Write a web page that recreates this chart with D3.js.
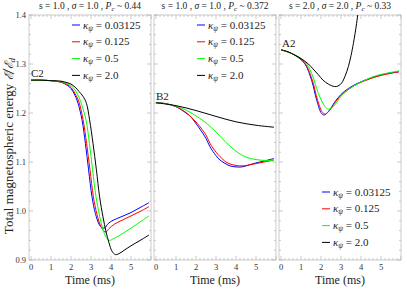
<!DOCTYPE html>
<html>
<head>
<meta charset="utf-8">
<script src="https://cdn.jsdelivr.net/npm/d3@7"></script>
<style>
body { margin: 0; background: #fff; }
</style>
</head>
<body>
<div id="chart"></div>
<script>
// kappa values shown in the legends
var kappaLabels = ["0.03125", "0.125", "0.5", "2.0"];
var seriesColors = ["#0000ff", "#ff0000", "#00ff00", "#000000"];

var panelNames = ["C2", "B2", "A2"];
var panelS = ["1.0", "1.0", "2.0"];
var panelSigma = ["1.0", "1.0", "2.0"];
var panelPc = ["0.44", "0.372", "0.33"];

var xTicks = [0, 1, 2, 3, 4, 5];
var yTicks = [0.9, 1.0, 1.1, 1.2, 1.3, 1.4];

// panel C2, [time (ms), energy]
var c2Blue = [[0,1.267],[0.5,1.267],[1,1.266],[1.5,1.263],[1.8,1.257],[2.0,1.250],[2.2,1.236],[2.35,1.220],[2.55,1.186],[2.72,1.138],[2.88,1.084],[3.05,1.029],[3.22,0.995],[3.43,0.971],[3.6,0.965],[3.7,0.966],[3.85,0.974],[4.1,0.981],[4.5,0.988],[5.0,0.997],[5.5,1.008],[5.9,1.017]];
var c2Red = [[0,1.267],[0.5,1.267],[1,1.266],[1.5,1.263],[1.8,1.258],[2.0,1.252],[2.2,1.240],[2.4,1.222],[2.6,1.187],[2.78,1.138],[2.95,1.084],[3.12,1.029],[3.3,0.993],[3.5,0.968],[3.65,0.959],[3.75,0.957],[3.9,0.964],[4.2,0.974],[4.6,0.982],[5.0,0.990],[5.5,1.000],[5.9,1.009]];
var c2Green = [[0,1.267],[0.5,1.267],[1,1.266],[1.5,1.264],[1.8,1.260],[2.0,1.256],[2.2,1.247],[2.4,1.232],[2.55,1.215],[2.75,1.186],[2.92,1.138],[3.08,1.084],[3.25,1.029],[3.42,0.992],[3.6,0.962],[3.78,0.945],[3.93,0.940],[4.1,0.943],[4.5,0.952],[5.0,0.965],[5.5,0.979],[5.9,0.990]];
var c2Black = [[0,1.267],[0.5,1.267],[1,1.266],[1.5,1.265],[1.8,1.262],[2.0,1.259],[2.2,1.253],[2.4,1.244],[2.6,1.234],[2.77,1.220],[2.93,1.186],[3.1,1.138],[3.27,1.084],[3.43,1.029],[3.6,0.988],[3.75,0.958],[3.9,0.935],[4.05,0.918],[4.22,0.911],[4.4,0.913],[4.7,0.921],[5.0,0.929],[5.5,0.941],[5.9,0.951]];

// panel B2
var b2Blue = [[0,1.221],[0.5,1.219],[1.0,1.213],[1.5,1.200],[1.7,1.194],[2.2,1.167],[2.5,1.148],[2.7,1.131],[3.0,1.113],[3.2,1.104],[3.5,1.096],[3.7,1.092],[4.0,1.090],[4.3,1.090],[4.9,1.097],[5.4,1.102],[5.9,1.107]];
var b2Red = [[0,1.221],[0.5,1.219],[1.0,1.213],[1.5,1.201],[1.9,1.186],[2.2,1.172],[2.5,1.155],[2.7,1.138],[3.0,1.120],[3.2,1.111],[3.5,1.100],[3.7,1.096],[4.0,1.093],[4.3,1.092],[4.9,1.096],[5.4,1.100],[5.9,1.104]];
var b2Green = [[0,1.221],[0.5,1.219],[1.0,1.214],[1.5,1.206],[2.0,1.194],[2.5,1.180],[3.0,1.161],[3.5,1.140],[4.0,1.122],[4.5,1.110],[5.0,1.105],[5.5,1.103],[5.9,1.103]];
var b2Black = [[0,1.221],[1,1.215],[2,1.205],[3,1.193],[4,1.182],[5,1.175],[5.9,1.171]];

// panel A2
var a2Blue = [[0,1.329],[0.5,1.322],[0.87,1.313],[1.2,1.300],[1.53,1.267],[1.78,1.227],[2.03,1.199],[2.17,1.196],[2.37,1.203],[2.7,1.223],[3.0,1.238],[3.37,1.250],[3.8,1.260],[4.2,1.267],[4.6,1.273],[5.03,1.278],[5.5,1.282],[5.9,1.284]];
var a2Red = [[0,1.329],[0.5,1.322],[0.9,1.313],[1.25,1.298],[1.58,1.265],[1.83,1.226],[2.08,1.201],[2.22,1.198],[2.42,1.205],[2.75,1.224],[3.05,1.238],[3.4,1.249],[3.8,1.259],[4.2,1.266],[4.6,1.272],[5.03,1.277],[5.5,1.281],[5.9,1.284]];
var a2Green = [[0,1.329],[0.5,1.322],[0.9,1.314],[1.2,1.305],[1.53,1.281],[1.87,1.240],[2.2,1.213],[2.37,1.208],[2.55,1.211],[2.7,1.217],[3.0,1.234],[3.37,1.248],[3.8,1.259],[4.2,1.267],[4.6,1.274],[5.03,1.279],[5.5,1.283],[5.9,1.286]];
var a2Black = [[0,1.329],[0.35,1.325],[0.7,1.318],[1.0,1.311],[1.37,1.300],[1.6,1.290],[1.87,1.278],[2.1,1.267],[2.37,1.259],[2.67,1.254],[2.85,1.255],[3.03,1.261],[3.2,1.275],[3.37,1.295],[3.5,1.317],[3.62,1.342],[3.78,1.383],[3.9,1.42]];

var panelSeries = [
	[c2Blue, c2Red, c2Green, c2Black],
	[b2Blue, b2Red, b2Green, b2Black],
	[a2Blue, a2Red, a2Green, a2Black]
];

var config = {
	width: 407,
	height: 289,
	fontFamily: "'Liberation Serif', 'Times New Roman', serif",
	panelLeft: [29, 154, 279],
	panelWidth: 122,
	top: 15,
	bottom: 260,
	frameColor: "#a8a8a8",
	textColor: "#333",
	labelPos: [[31, 77], [156, 100], [282, 47]],
	legendTop: [25, 25, 192],
	legendStep: 16.8
};

var svg = d3.select("#chart").append("svg")
	.attr("width", config.width)
	.attr("height", config.height)
	.attr("font-family", config.fontFamily);

var y = d3.scaleLinear().domain([0.9, 1.4]).range([config.bottom, config.top]);
var yMinor = d3.range(0.9, 1.4001, 0.02);
var xMinor = d3.range(0, 6.001, 0.2);

function isMajor(d, f) { return Math.abs(d * f - Math.round(d * f)) < 1e-6; }

panelSeries.forEach(function (series, p) {
	var L = config.panelLeft[p];
	var R = L + config.panelWidth;
	var x = d3.scaleLinear().domain([-0.1, 6.0]).range([L, R]);
	var g = svg.append("g").attr("class", "panel");

	g.append("clipPath").attr("id", "clip" + p)
		.append("rect")
		.attr("x", L).attr("y", config.top)
		.attr("width", config.panelWidth).attr("height", config.bottom - config.top);

	// frame ticks on all four sides, pointing inward
	var frame = g.append("g").attr("stroke", config.frameColor).attr("stroke-width", 0.6);
	frame.selectAll(".xb").data(xMinor).enter().append("line")
		.attr("x1", function (d) { return x(d); }).attr("x2", function (d) { return x(d); })
		.attr("y1", config.bottom).attr("y2", function (d) { return config.bottom - (isMajor(d, 1) ? 4 : 2); });
	frame.selectAll(".xt").data(xMinor).enter().append("line")
		.attr("x1", function (d) { return x(d); }).attr("x2", function (d) { return x(d); })
		.attr("y1", config.top).attr("y2", function (d) { return config.top + (isMajor(d, 1) ? 4 : 2); });
	frame.selectAll(".yl").data(yMinor).enter().append("line")
		.attr("y1", function (d) { return y(d); }).attr("y2", function (d) { return y(d); })
		.attr("x1", L).attr("x2", function (d) { return L + (isMajor(d, 10) ? 4 : 2); });
	frame.selectAll(".yr").data(yMinor).enter().append("line")
		.attr("y1", function (d) { return y(d); }).attr("y2", function (d) { return y(d); })
		.attr("x1", R).attr("x2", function (d) { return R - (isMajor(d, 10) ? 4 : 2); });
	frame.append("rect")
		.attr("x", L).attr("y", config.top)
		.attr("width", config.panelWidth).attr("height", config.bottom - config.top)
		.attr("fill", "none");

	// x tick labels
	g.selectAll(".xl").data(xTicks).enter().append("text")
		.attr("x", function (d) { return x(d); })
		.attr("y", config.bottom + 10)
		.attr("text-anchor", "middle")
		.attr("font-size", 8.5)
		.attr("fill", config.textColor)
		.text(function (d) { return d; });

	if (p == 0) {
		g.selectAll(".yl2").data(yTicks).enter().append("text")
			.attr("x", L - 3)
			.attr("y", function (d) { return y(d) + 3; })
			.attr("text-anchor", "end")
			.attr("font-size", 8.5)
			.attr("fill", config.textColor)
			.text(function (d) { return d3.format(".1f")(d); });
	}

	var line = d3.line()
		.x(function (d) { return x(d[0]); })
		.y(function (d) { return y(d[1]); })
		.curve(d3.curveCatmullRom);

	g.append("g").attr("clip-path", "url(#clip" + p + ")")
		.selectAll("path").data(series).enter().append("path")
		.attr("d", line)
		.attr("fill", "none")
		.attr("stroke", function (d, i) { return seriesColors[i]; })
		.attr("stroke-width", 1);

	// title
	var title = g.append("text")
		.attr("x", L + config.panelWidth / 2)
		.attr("y", 9)
		.attr("text-anchor", "middle")
		.attr("font-size", 9.5)
		.attr("fill", "#222");
	title.append("tspan").text("s = " + panelS[p] + " , ");
	title.append("tspan").attr("font-style", "italic").text("σ");
	title.append("tspan").text(" = " + panelSigma[p] + " , ");
	title.append("tspan").attr("font-style", "italic").text("P");
	title.append("tspan").attr("font-style", "italic").attr("font-size", 7).attr("dy", 2).text("c");
	title.append("tspan").attr("dy", -2).text(" ~ " + panelPc[p]);

	g.append("text")
		.attr("x", config.labelPos[p][0])
		.attr("y", config.labelPos[p][1])
		.attr("font-size", 11)
		.attr("fill", "#222")
		.text(panelNames[p]);

	// legend
	var legend = g.selectAll(".legend").data(kappaLabels).enter().append("g")
		.attr("transform", function (d, i) { return "translate(" + (L + 43) + "," + (config.legendTop[p] + i * config.legendStep) + ")"; });
	legend.append("line")
		.attr("x1", 0).attr("x2", 8).attr("y1", 0).attr("y2", 0)
		.attr("stroke", function (d, i) { return seriesColors[i]; })
		.attr("stroke-width", 1);
	var lt = legend.append("text")
		.attr("x", 11).attr("y", 3.5)
		.attr("font-size", 11)
		.attr("fill", "#222");
	lt.append("tspan").attr("font-style", "italic").text("κ");
	lt.append("tspan").attr("font-style", "italic").attr("font-size", 7.5).attr("dy", 2).text("ψ");
	lt.append("tspan").attr("dy", -2).text(function (d) { return " = " + d; });

	g.append("text")
		.attr("x", L + config.panelWidth / 2)
		.attr("y", 284)
		.attr("text-anchor", "middle")
		.attr("font-size", 12)
		.attr("fill", "#222")
		.text("Time (ms)");
});

var yl = svg.append("text")
	.attr("transform", "translate(13,146) rotate(-90)")
	.attr("text-anchor", "middle")
	.attr("font-size", 13)
	.attr("fill", "#222");
yl.append("tspan").text("Total magnetospheric energy ");
yl.append("tspan").attr("font-style", "italic").attr("font-family", "'DejaVu Serif', serif").attr("font-size", 12).text("ℰ/ℰ");
yl.append("tspan").attr("font-style", "italic").attr("font-size", 9).attr("dy", 2).text("d");
</script>
</body>
</html>
